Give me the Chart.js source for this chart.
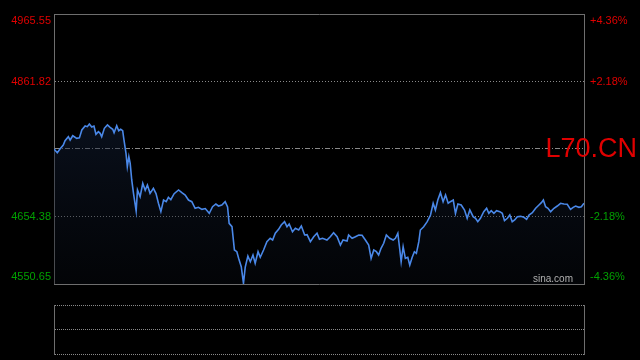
<!DOCTYPE html>
<html>
<head>
<meta charset="utf-8">
<script src="https://cdn.jsdelivr.net/npm/chart.js@4.4.1/dist/chart.umd.min.js"></script>
<style>
  html, body { margin: 0; background: #000; }
  #wrap { position: relative; width: 640px; height: 360px; }
  canvas { position: absolute; left: 0; }
</style>
</head>
<body>
<div id="wrap">
  <canvas id="price-chart" width="640" height="290" style="top:0"></canvas>
  <canvas id="volume-chart" width="640" height="70" style="top:290px"></canvas>
</div>
<script>
const SYMBOL = "L70.CN";
const SOURCE = "sina.com";
const PREV_CLOSE = 4758.10;
const PRICE_TICKS = [4550.65, 4654.38, 4758.10, 4861.82, 4965.55];

// minutes since open (0..240)
const minutes = [
  0, 1.5, 2.7, 4.2, 5.0, 6.5, 7.3, 8.5, 10.3, 11.5,
  12.6, 14.1, 15.1, 16.0, 17.1, 18.1, 19.0, 20.1, 20.9, 21.6,
  22.8, 24.2, 25.4, 26.6, 27.2, 28.4, 29.3, 30.2, 31.1, 31.7,
  32.6, 33.2, 33.9, 34.5, 35.2, 36.0, 37.2, 37.8, 39.0, 40.2,
  41.3, 42.3, 43.5, 45.0, 46.2, 47.3, 48.4, 49.6, 50.8, 51.8,
  52.9, 54.4, 56.4, 57.9, 59.4, 60.9, 62.4, 63.9, 65.4, 67.0,
  68.5, 70.3, 71.8, 73.3, 74.5, 76.0, 77.5, 78.6, 79.3, 80.6,
  81.7, 82.8, 83.6, 84.8, 85.8, 86.6, 87.8, 88.9, 90.1, 91.1,
  92.4, 93.4, 94.9, 96.4, 97.9, 99.0, 100.2, 101.7, 102.9, 104.4,
  105.5, 106.5, 108.0, 109.3, 110.8, 112.0, 113.5, 114.6, 116.1, 117.6,
  119.1, 120.2, 121.6, 123.6, 125.1, 126.6, 128.2, 129.7, 130.9, 132.7,
  133.4, 135.0, 136.5, 138.0, 139.5, 141.0, 142.5, 143.6, 144.8, 146.0,
  147.0, 148.1, 149.3, 150.5, 152.0, 153.6, 154.6, 155.7, 156.6, 157.2,
  158.1, 159.1, 160.2, 161.1, 162.2, 163.2, 164.1, 165.2, 165.9, 167.4,
  169.0, 170.5, 171.7, 172.7, 173.8, 175.0, 176.2, 177.3, 178.5, 179.5,
  180.8, 181.8, 182.9, 184.4, 185.9, 187.1, 188.3, 189.8, 190.9, 191.9,
  193.1, 194.6, 195.9, 196.9, 198.0, 199.2, 200.4, 201.9, 203.0, 204.0,
  205.3, 206.4, 207.5, 208.6, 209.8, 211.3, 212.8, 214.0, 215.1, 216.6,
  218.1, 219.6, 220.7, 221.6, 222.6, 223.7, 224.9, 226.4, 227.9, 229.4,
  230.9, 232.4, 233.9, 235.1, 236.2, 237.7, 238.8, 240
];

const prices = [
  4758.1, 4752.4, 4758.1, 4764.3, 4770.9, 4777.0, 4771.9, 4778.5, 4774.5, 4775.2,
  4787.3, 4793.4, 4792.4, 4796.5, 4791.8, 4793.4, 4780.7, 4784.7, 4782.2, 4777.0,
  4789.9, 4795.0, 4791.4, 4788.4, 4783.1, 4793.9, 4786.2, 4788.4, 4786.2, 4771.9,
  4751.5, 4730.9, 4746.3, 4736.1, 4710.5, 4690.0, 4662.8, 4695.1, 4684.8, 4705.4,
  4694.6, 4702.8, 4690.0, 4697.7, 4689.6, 4674.7, 4661.8, 4679.7, 4677.1, 4683.9,
  4680.2, 4689.4, 4695.1, 4691.0, 4687.4, 4679.7, 4677.1, 4667.0, 4668.5, 4665.4,
  4666.6, 4659.3, 4669.4, 4673.6, 4670.5, 4672.0, 4677.1, 4669.0, 4643.9, 4638.7,
  4602.9, 4600.3, 4590.1, 4577.2, 4551.7, 4576.6, 4593.7, 4584.9, 4595.2, 4582.5,
  4600.3, 4591.7, 4602.9, 4615.7, 4620.9, 4618.3, 4628.6, 4634.7, 4641.3, 4646.4,
  4638.7, 4642.9, 4631.0, 4636.2, 4633.6, 4639.8, 4626.0, 4626.5, 4615.7, 4623.3,
  4628.6, 4619.3, 4620.9, 4618.3, 4623.3, 4629.5, 4623.3, 4610.6, 4618.3, 4616.7,
  4626.0, 4620.9, 4623.3, 4626.0, 4625.5, 4618.3, 4610.6, 4590.1, 4602.9, 4600.3,
  4595.2, 4605.5, 4613.2, 4626.0, 4620.9, 4618.3, 4620.9, 4628.6, 4602.9, 4584.9,
  4608.0, 4590.1, 4591.7, 4579.8, 4591.7, 4600.3, 4597.8, 4615.7, 4633.6, 4638.7,
  4646.4, 4656.7, 4674.7, 4664.4, 4679.7, 4691.0, 4677.1, 4687.4, 4674.7, 4677.1,
  4679.7, 4659.3, 4673.6, 4672.0, 4664.4, 4651.6, 4664.4, 4654.1, 4651.6, 4646.4,
  4651.6, 4661.8, 4667.0, 4659.3, 4663.3, 4659.3, 4663.3, 4661.8, 4659.3, 4647.9,
  4651.6, 4656.7, 4646.4, 4649.0, 4654.1, 4654.6, 4653.1, 4650.1, 4656.7, 4660.2,
  4667.0, 4672.0, 4675.6, 4679.7, 4669.4, 4667.0, 4661.8, 4667.0, 4670.5, 4674.7,
  4673.6, 4673.1, 4665.4, 4668.5, 4670.5, 4668.5, 4669.4, 4674.7
];

const volumes = [];

const UP_COLOR = "#e00000";
const DOWN_COLOR = "#00a000";
const BORDER_COLOR = "#6e6e6e";
const GRID_COLOR = "#8a8a8a";
const FONT = { family: "'Liberation Sans', Arial, sans-serif", size: 11 };

const setTicks = (values) => (scale) => {
  scale.ticks = values.map((v) => ({ value: v }));
};

const tickColor = (ctx) =>
  ctx.tick && ctx.tick.value > PREV_CLOSE ? UP_COLOR : DOWN_COLOR;

// push the outer labels inside the plot, like the original
const placeLabel = (text, index) => {
  if (index === PRICE_TICKS.length - 1) return ["", text];
  if (index === 0) return [text, ""];
  return text;
};

const textPlugin = {
  id: "overlayText",
  afterDraw(chart) {
    const { ctx, chartArea } = chart;
    const midY = chart.scales.y.getPixelForValue(PREV_CLOSE);
    ctx.save();
    ctx.fillStyle = "#e00000";
    ctx.font = "27px 'Liberation Sans', Arial, sans-serif";
    ctx.textAlign = "right";
    ctx.textBaseline = "middle";
    ctx.fillText(SYMBOL, 637, midY + 1);
    ctx.fillStyle = "#b0b0b0";
    ctx.font = "10px 'Liberation Sans', Arial, sans-serif";
    ctx.textBaseline = "alphabetic";
    ctx.fillText(SOURCE, chartArea.right - 11, chartArea.bottom - 2);
    ctx.restore();
  },
};

new Chart(document.getElementById("price-chart"), {
  type: "line",
  data: {
    datasets: [
      {
        data: minutes.map((m, i) => ({ x: m, y: prices[i] })),
        borderColor: "#4a88e8",
        borderWidth: 1.6,
        pointRadius: 0,
        tension: 0,
        fill: "start",
        backgroundColor: (ctx) => {
          const area = ctx.chart.chartArea;
          if (!area) return "rgba(20,35,60,0.5)";
          const g = ctx.chart.ctx.createLinearGradient(0, area.top, 0, area.bottom);
          g.addColorStop(0, "rgba(28,48,85,0.55)");
          g.addColorStop(1, "rgba(8,12,20,0.35)");
          return g;
        },
      },
    ],
  },
  options: {
    responsive: false,
    animation: false,
    devicePixelRatio: 1,
    layout: { autoPadding: false, padding: { top: 14, bottom: 6, left: 0, right: 0 } },
    plugins: { legend: { display: false }, tooltip: { enabled: false } },
    scales: {
      x: { type: "linear", min: 0, max: 240, display: false },
      y: {
        position: "left",
        min: PRICE_TICKS[0],
        max: PRICE_TICKS[PRICE_TICKS.length - 1],
        afterBuildTicks: setTicks(PRICE_TICKS),
        afterFit: (scale) => {
          scale.width = 54;
          scale.paddingTop = 0;
          scale.paddingBottom = 0;
        },
        grid: {
          drawTicks: false,
          color: (ctx) =>
            ctx.index === 0 || ctx.index === PRICE_TICKS.length - 1 ? BORDER_COLOR : GRID_COLOR,
          lineWidth: 1,
        },
        border: {
          display: true,
          color: BORDER_COLOR,
          dash: (ctx) => {
            if (ctx.index === 0 || ctx.index === PRICE_TICKS.length - 1) return [];
            if (ctx.index === 2) return [5, 2, 1, 2];
            return [1, 2];
          },
        },
        ticks: {
          padding: 3,
          font: FONT,
          color: tickColor,
          callback: (value, index) =>
            index === 2 ? "" : placeLabel(Number(value).toFixed(2), index),
        },
      },
      y2: {
        position: "right",
        min: PRICE_TICKS[0],
        max: PRICE_TICKS[PRICE_TICKS.length - 1],
        afterBuildTicks: setTicks(PRICE_TICKS),
        afterFit: (scale) => {
          scale.width = 56;
          scale.paddingTop = 0;
          scale.paddingBottom = 0;
        },
        grid: { drawOnChartArea: false, drawTicks: false },
        border: { display: true, color: BORDER_COLOR },
        ticks: {
          padding: 6,
          font: FONT,
          color: tickColor,
          callback: (value, index) => {
            if (index === 2) return "";
            const pct = ((value - PREV_CLOSE) / PREV_CLOSE) * 100;
            const text = (pct > 0 ? "+" : "") + pct.toFixed(2) + "%";
            return placeLabel(text, index);
          },
        },
      },
    },
  },
  plugins: [textPlugin],
});

new Chart(document.getElementById("volume-chart"), {
  type: "bar",
  data: {
    datasets: [{ data: volumes, backgroundColor: "#4a88e8" }],
  },
  options: {
    responsive: false,
    animation: false,
    devicePixelRatio: 1,
    layout: { autoPadding: false, padding: { top: 15, bottom: 6, left: 0, right: 0 } },
    plugins: { legend: { display: false }, tooltip: { enabled: false } },
    scales: {
      x: { type: "linear", min: 0, max: 240, display: false },
      y: {
        position: "left",
        min: 0,
        max: 2,
        afterBuildTicks: setTicks([0, 1, 2]),
        afterFit: (scale) => { scale.width = 54; },
        grid: { drawTicks: false, color: GRID_COLOR },
        border: { display: true, color: BORDER_COLOR, dash: [1, 1] },
        ticks: { display: false },
      },
      y2: {
        position: "right",
        min: 0,
        max: 2,
        afterFit: (scale) => { scale.width = 56; },
        grid: { drawOnChartArea: false, drawTicks: false },
        border: { display: true, color: BORDER_COLOR },
        ticks: { display: false },
      },
    },
  },
});
</script>
</body>
</html>
